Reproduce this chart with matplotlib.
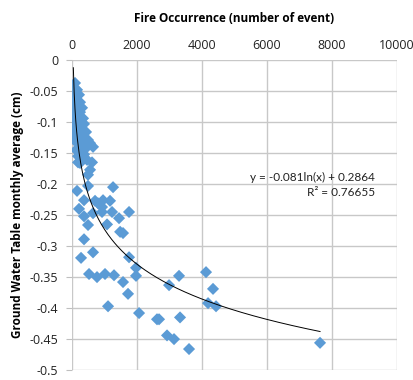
import matplotlib
matplotlib.use('Agg')
import matplotlib.pyplot as plt
import numpy as np

plt.rcParams['font.family'] = ['Open Sans', 'DejaVu Sans']

# fire occurrence (x) vs ground water table monthly average (y)
fire = [92, 31, 154, 62, 215, 10, 123, 246, 31, 185, 308, 92, 246, 31, 154,
        338, 92, 215, 369, 31, 154, 277, 431, 92, 215, 338, 492, 62, 185, 308,
        431, 123, 246, 369, 185, 308, 462, 246,
        646, 554, 185, 615, 554, 492, 492, 154, 1262, 369, 708, 954, 1169, 800,
        923, 215, 369, 646, 923, 1231, 1754, 492, 1077, 1446, 1569, 1480, 369,
        646, 277, 1754, 1969, 1969, 523, 769, 1015, 1292, 1569, 1723, 1108,
        2062, 2615, 2677, 2985, 3292, 3323, 2923, 3138, 3600,
        4123, 4338, 4185, 4431, 7631]
gwt = [-0.037, -0.045, -0.048, -0.055, -0.056, -0.061, -0.065, -0.068, -0.071,
       -0.074, -0.077, -0.081, -0.084, -0.087, -0.090, -0.094, -0.097, -0.100,
       -0.103, -0.106, -0.110, -0.113, -0.116, -0.119, -0.123, -0.126, -0.129,
       -0.129, -0.134, -0.137, -0.142, -0.145, -0.148, -0.152, -0.155, -0.158,
       -0.161, -0.166,
       -0.140, -0.134, -0.165, -0.165, -0.177, -0.185, -0.203, -0.211, -0.205,
       -0.226, -0.227, -0.226, -0.227, -0.231, -0.237, -0.240, -0.252, -0.247,
       -0.245, -0.245, -0.245, -0.266, -0.265, -0.255, -0.279, -0.277, -0.289,
       -0.310, -0.319, -0.318, -0.335, -0.348, -0.345, -0.350, -0.345, -0.347,
       -0.358, -0.377, -0.397,
       -0.408, -0.418, -0.418, -0.363, -0.348, -0.415, -0.444, -0.450, -0.466,
       -0.342, -0.369, -0.392, -0.397, -0.456]

# log trendline from the chart label
a = -0.081
b = 0.2864
r2 = 0.76655

fig = plt.figure(figsize=(4.14, 3.8), dpi=100)
ax = fig.add_axes([0.174, 0.026, 0.785, 0.816])

ax.scatter(fire, gwt, marker='D', s=38, color='#5B9BD5', edgecolors='none', zorder=3)

xs = np.linspace(40, max(fire), 300)
ax.plot(xs, a*np.log(xs) + b, color='black', lw=0.7, zorder=4)

ax.set_xlim(0, 10000)
ax.set_ylim(-0.5, 0)
ax.set_xticks(np.arange(0, 10001, 2000))
yt = np.round(np.arange(0, -0.501, -0.05), 2)
ax.set_yticks(yt)
ax.set_yticklabels(['0' if v == 0 else ('%g' % v) for v in yt])
ax.xaxis.tick_top()
ax.xaxis.set_label_position('top')
ax.tick_params(axis='x', length=0, labelsize=9, pad=6, colors='#222222')
ax.tick_params(axis='y', length=4, labelsize=9, pad=6, color='#BFBFBF', colors='#222222')
for lab in ax.get_yticklabels():
    lab.set_color('#222222')
ax.grid(True, color='#C8C8C8', lw=1)
ax.set_axisbelow(True)
for s in ax.spines.values():
    s.set_visible(False)

ax.set_xlabel('Fire Occurrence (number of event)', fontsize=8.5, fontweight='bold', labelpad=12)
ax.set_ylabel('Ground Water Table monthly average (cm)', fontsize=8.5, fontweight='bold', labelpad=4)

ax.text(9330, -0.189, 'y = -0.081ln(x) + 0.2864', fontsize=8.5, ha='right', va='center',
        color='#222222', family=['Lato', 'DejaVu Sans'])
ax.text(9330, -0.213, 'R² = 0.76655', fontsize=8.5, ha='right', va='center',
        color='#222222', family=['Lato', 'DejaVu Sans'])

fig.savefig('out.png', dpi=100)
